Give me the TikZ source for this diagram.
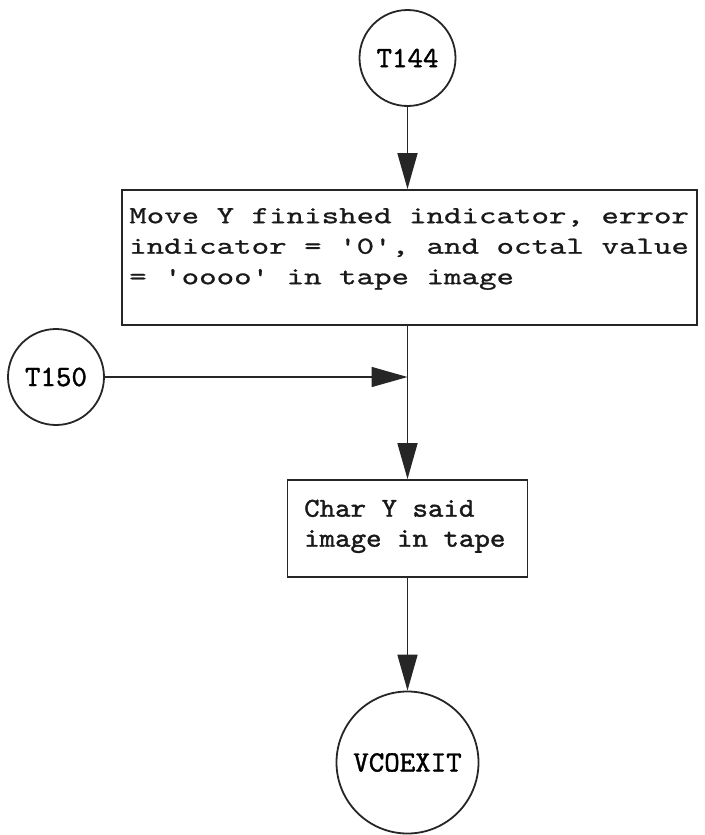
\documentclass[tikz,border=0pt]{standalone}
\usepackage{fontspec}
\usetikzlibrary{arrows.meta}
\newfontfamily\boxonefont[Ligatures=TeXOff,FakeStretch=1.36,FakeBold=0.9]{lmmono10-regular.otf}
\newfontfamily\boxtwofont[Ligatures=TeXOff,FakeStretch=1.08,FakeBold=1.4]{lmmono10-regular.otf}
\newfontfamily\circfont[Ligatures=TeXOff,FakeStretch=1.0,FakeBold=1.3]{lmmono10-regular.otf}
\begin{document}
\begin{tikzpicture}[x=1pt,y=-1pt,
  ink/.style={draw=black!85, line width=1.8pt},
  term/.style={ink, circle, inner sep=0pt, font={\circfont\fontsize{29.5}{29.5}\selectfont}},
  procbox/.style={ink, rectangle, inner sep=0pt},
  boxtext/.style={anchor=north west, inner sep=0pt, align=left, text=black!90},
  flow/.style={draw=black!85, line width=1.6pt, -{Triangle[length=36pt,width=20pt]}}
]
\useasboundingbox (0,0) rectangle (704,835);

\node[term, minimum size=96pt] (t144) at (407.5,58) {T144};
\node[procbox, minimum width=575pt, minimum height=135pt] (box1) at (409.5,257.5) {};
\node[boxtext, font={\boxonefont\fontsize{24.5}{30.5}\selectfont}] (txt1) at (129,202.2)
  {\rule{0pt}{20.8pt}Move Y finished indicator, error\\indicator = '0', and octal value\\= 'oooo' in tape image};
\node[term, minimum size=96pt] (t150) at (56,377) {T150};
\node[procbox, minimum width=240pt, minimum height=97pt] (box2) at (407.5,528.5) {};
\node[boxtext, font={\boxtwofont\fontsize{27.3}{30}\selectfont}] (txt2) at (304,493.3)
  {\rule{0pt}{23.2pt}Char Y said\\image in tape};
\node[term, minimum size=142pt] (vco) at (407.5,762.5) {VCOEXIT};

\coordinate (j) at (t144 |- t150);
\draw[flow] (t144) -- (t144 |- box1.north);
\draw[flow] (t150) -- (j);
\draw[flow] (box1.south -| t144) -- (box2.north);
\draw[flow] (box2) -- (vco);
\end{tikzpicture}
\end{document}
